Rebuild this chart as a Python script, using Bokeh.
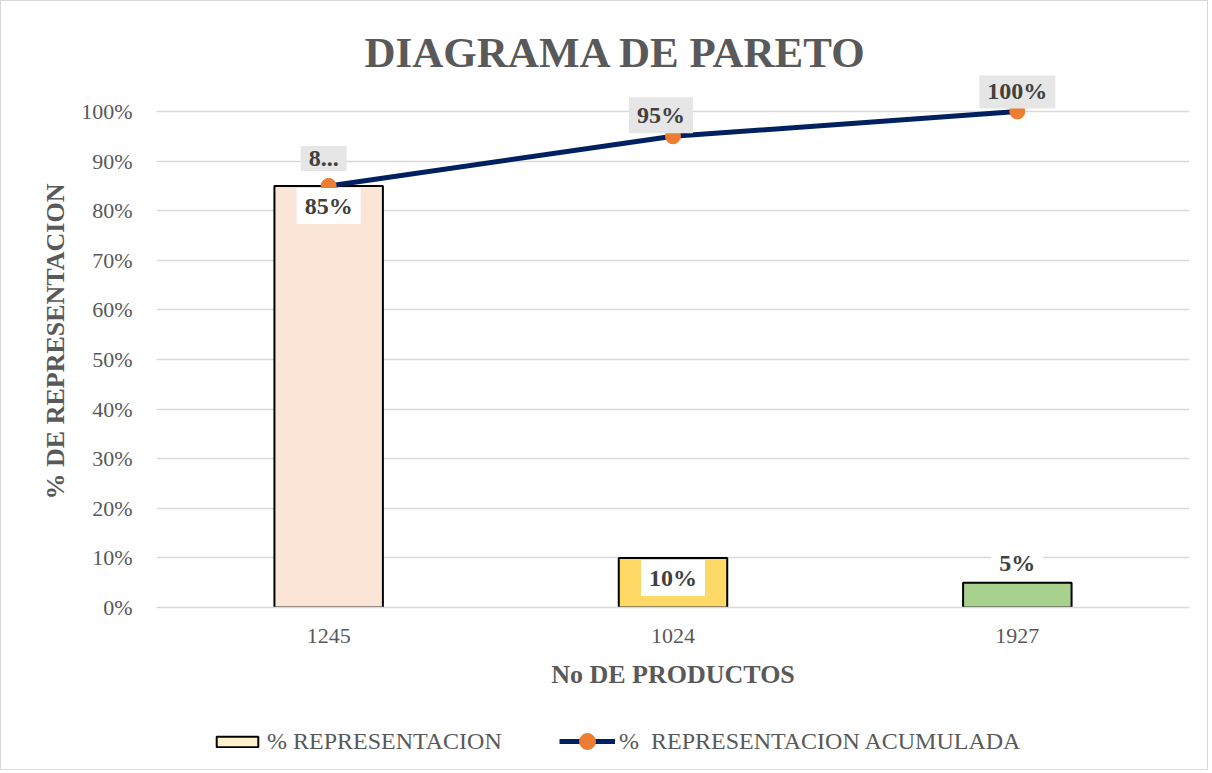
from bokeh.plotting import figure
from bokeh.layouts import column
from bokeh.models import (FactorRange, Range1d, FixedTicker, NumeralTickFormatter,
                          Label, Legend, LegendItem, ColumnDataSource)
from bokeh.embed import file_html
from bokeh.resources import INLINE

# ---- data ----
productos = ["1245", "1024", "1927"]
representacion = [0.85, 0.10, 0.05]
acumulada = [0.85, 0.95, 1.00]
bar_colors = ["#FBE5D6", "#FFD966", "#A9D18E"]
bar_labels = ["85%", "10%", "5%"]
acum_labels = ["8...", "95%", "100%"]
y_ticks = [0.0, 0.1, 0.2, 0.3, 0.4, 0.5, 0.6, 0.7, 0.8, 0.9, 1.0]
serie_1 = "% REPRESENTACION"
serie_2 = "%  REPRESENTACION ACUMULADA"

FONT = "Liberation Serif"
GREY_TXT = "#595959"
DARK_TXT = "#404040"
W = 1206
FRAME_L = 155

src = ColumnDataSource(dict(producto=productos, rep=representacion,
                            acum=acumulada, color=bar_colors))

p = figure(width=W, height=690, output_backend="svg", toolbar_location=None,
           x_range=FactorRange(*productos, range_padding=0),
           y_range=Range1d(0, 1.0726),
           min_border_left=FRAME_L, min_border_right=W - 1188,
           min_border_top=74, min_border_bottom=84,
           title="DIAGRAMA DE PARETO")
p.outline_line_color = None

p.title.align = "left"
p.title.offset = 208
p.title.standoff = 0
p.title.text_font = FONT
p.title.text_font_size = "43px"
p.title.text_font_style = "bold"
p.title.text_color = GREY_TXT
p.title.text_line_height = 0.55

# grid
p.xgrid.grid_line_color = None
p.ygrid.grid_line_color = "#d9d9d9"
p.ygrid.grid_line_width = 1.5

# axes
p.yaxis.ticker = FixedTicker(ticks=y_ticks)
p.yaxis.formatter = NumeralTickFormatter(format="0%")
p.yaxis.bounds = (0, 1)
p.yaxis.axis_line_color = None
p.yaxis.major_tick_line_color = None
p.yaxis.minor_tick_line_color = None
p.yaxis.major_label_standoff = 18
p.yaxis.axis_label = "% DE REPRESENTACION"
p.yaxis.axis_label_standoff = 8

p.xaxis.axis_line_color = "#d9d9d9"
p.xaxis.axis_line_width = 1.5
p.xaxis.major_tick_line_color = None
p.xaxis.minor_tick_line_color = None
p.xaxis.major_label_standoff = 15
p.xaxis.axis_label = "No DE PRODUCTOS"
p.xaxis.axis_label_standoff = 14

for ax in (p.xaxis[0], p.yaxis[0]):
    ax.major_label_text_font = FONT
    ax.major_label_text_font_size = "22px"
    ax.major_label_text_color = GREY_TXT
    ax.axis_label_text_font = FONT
    ax.axis_label_text_font_size = "26px"
    ax.axis_label_text_font_style = "bold"
    ax.axis_label_text_color = GREY_TXT

# bars
p.vbar(x="producto", top="rep", width=0.315, source=src,
       fill_color="color", line_color="black", line_width=2)

# cumulative line
p.line(x="producto", y="acum", source=src, line_color="#002060", line_width=5)
p.scatter(x="producto", y="acum", source=src, size=15,
          fill_color="#ED7D31", line_color="#ED7D31")

# bar data labels (x at the category centre in synthetic coordinates)
for i, (v, t) in enumerate(zip(representacion, bar_labels)):
    inside = v >= 0.1
    p.add_layout(Label(x=i + 0.5, y=v, text=t, text_align="center",
                       text_baseline="top" if inside else "bottom",
                       y_offset=-2 if inside else 2,
                       text_font=FONT, text_font_size="24px", text_font_style="bold",
                       text_color=DARK_TXT, background_fill_color="white", padding=(8, 5)))

# cumulative data labels
label_shift = [(-5, 15), (-12, 3), (0, 3)]
for i, (v, t) in enumerate(zip(acumulada, acum_labels)):
    dx, dy = label_shift[i]
    p.add_layout(Label(x=i + 0.5, y=v, text=t, text_align="center", text_baseline="bottom",
                       y_offset=dy, x_offset=dx,
                       text_font=FONT, text_font_size="24px", text_font_style="bold",
                       text_color=DARK_TXT, background_fill_color="#E6E6E6", padding=(8, 5)))

# ---- legend strip below the chart ----
# the strip's ranges exclude every data point, so its renderers draw nothing
# and serve only as legend swatches
lf = figure(width=W, height=78, output_backend="svg", toolbar_location=None,
            x_range=FactorRange("-"), y_range=Range1d(1000, 1001),
            x_axis_location=None, y_axis_location=None,
            min_border_left=FRAME_L, min_border_right=W - 1188,
            min_border_top=0, min_border_bottom=0)
lf.outline_line_color = None
lf.grid.grid_line_color = None
lg_bar = lf.vbar(x="producto", top="rep", width=0.3, source=src,
                 fill_color="#FFF2CC", line_color="black", line_width=2)
lg_line = lf.line(x="producto", y="acum", source=src,
                  line_color="#002060", line_width=5)
lg_pts = lf.scatter(x="producto", y="acum", source=src, size=15,
                    fill_color="#ED7D31", line_color="#ED7D31")

def make_legend(items, loc, gh, gw):
    lg = Legend(items=items, location=loc, orientation="horizontal")
    lg.label_text_font = FONT
    lg.label_text_font_size = "24px"
    lg.label_text_color = GREY_TXT
    lg.glyph_width = gw
    lg.glyph_height = gh
    lg.label_standoff = 4
    lg.padding = 0
    lg.margin = 0
    lg.border_line_color = None
    lg.background_fill_alpha = 0
    return lg

lf.add_layout(make_legend([LegendItem(label=serie_1, renderers=[lg_bar])],
                          (210 - FRAME_L, 14), 13, 52))
lf.add_layout(make_legend([LegendItem(label=serie_2, renderers=[lg_line, lg_pts])],
                          (558 - FRAME_L, 8), 40, 56))

layout = column(p, lf, spacing=0, styles={"border": "1px solid #d9d9d9"})
open("out.html", "w").write(file_html(layout, INLINE))
